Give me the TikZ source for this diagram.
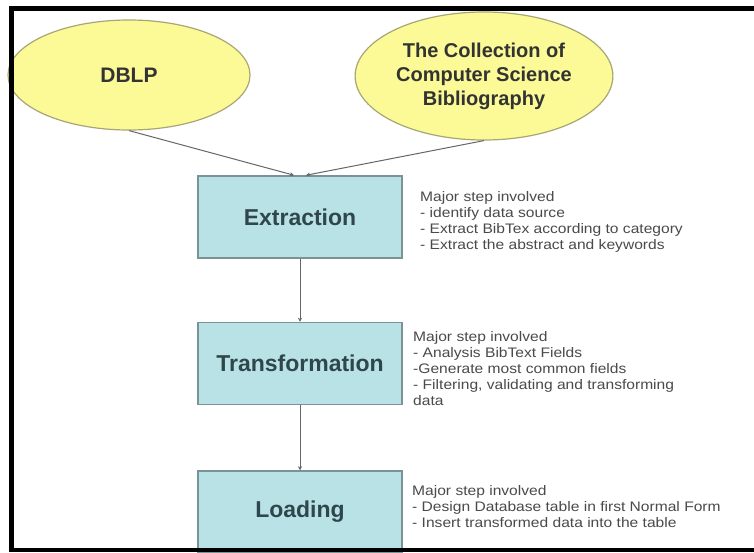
\documentclass[tikz,border=0pt]{standalone}
\usepackage{fontspec}
\setmainfont{Liberation Sans}
\newfontfamily\notefont[FakeStretch=1.13]{Liberation Sans}
\usetikzlibrary{shapes.geometric,arrows.meta}
\definecolor{srcfill}{HTML}{FBFA96}
\definecolor{srcline}{HTML}{A9A676}
\definecolor{stagefill}{HTML}{B9E2E7}
\definecolor{stageline}{HTML}{7A9399}
\definecolor{stagetext}{HTML}{2F474C}
\definecolor{notegray}{HTML}{4A4A4A}
\tikzset{
	srcnode/.style={ellipse, draw=srcline, fill=srcfill, line width=1.2pt, align=center, text=black!80, font=\bfseries\fontsize{20}{24}\selectfont},
	stagebox/.style={rectangle, draw=stageline, fill=stagefill, line width=1.5pt, minimum width=204pt, minimum height=82pt, text=stagetext, font=\bfseries\fontsize{23}{27}\selectfont},
	notetext/.style={anchor=north west, inner sep=0pt, align=left, text=notegray, font=\notefont\fontsize{13.8}{16}\selectfont},
	flowline/.style={draw=black!60, line width=1pt, -{Stealth[length=4pt,width=4pt]}}
}

\begin{document}
\begin{tikzpicture}[x=1pt,y=-1pt]
			%%%%% START %%%%%
			\fill[white] (0,0) rectangle (754,552);
			\useasboundingbox (0,0) rectangle (754,552);
			
			\node[srcnode, minimum width=242pt, minimum height=110pt, font=\bfseries\fontsize{21}{24}\selectfont] (dblp) at (129,75) {DBLP};
			\node[srcnode, minimum width=218pt, minimum height=128pt] (ccsb) at (484,76) {The Collection of\\Computer Science\\Bibliography};
			
			\node[stagebox] (ext) at (300,217) {Extraction};
			\node[stagebox] (trans) at (300,363.5) {Transformation};
			\node[stagebox] (load) at (300,512) {Loading};
			
			\coordinate (extinl) at ([xshift=-6pt]ext.north);
			\coordinate (extinr) at ([xshift=6pt]ext.north);
			
			\draw[flowline] (dblp.south) -- (extinl);
			\draw[flowline] (ccsb.south) -- (extinr);
			\draw[flowline] (ext.south) -- (trans.north);
			\draw[flowline] (trans.south) -- (load.north);
			
			\node[notetext] (extnote) at (420,191) {Major step involved\\- identify data source\\- Extract BibTex according to category\\- Extract the abstract and keywords};
			\node[notetext] (transnote) at (413,331) {Major step involved\\- Analysis BibText Fields\\-Generate most common fields\\- Filtering, validating and transforming\\data};
			\node[notetext] (loadnote) at (412,485) {Major step involved\\- Design Database table in first Normal Form\\- Insert transformed data into the table};
			
			% frame
			\fill[black] (9,6) rectangle (754,11);
			\fill[black] (9,6) rectangle (14,552);
			\fill[black] (9,548) rectangle (754,552);
			%%%%% END %%%%%
\end{tikzpicture}
\end{document}
